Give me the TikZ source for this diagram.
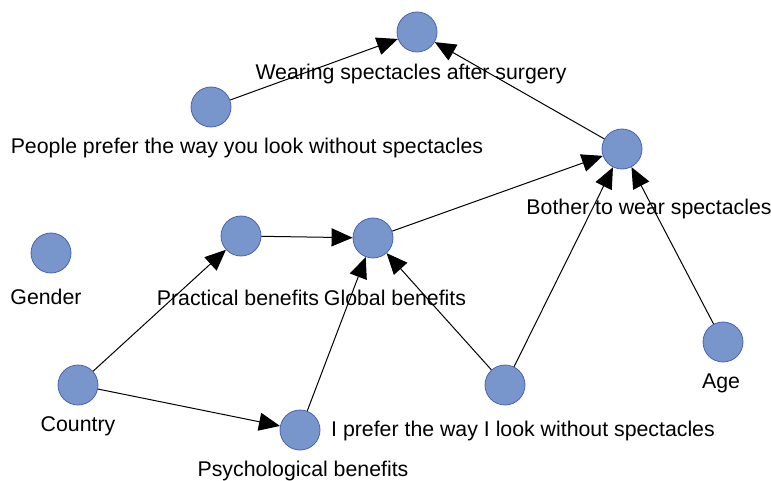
\documentclass[tikz,border=0pt]{standalone}
\usepackage{fontspec}
\setmainfont{Liberation Sans}
\usepackage{xcolor}
\definecolor{NodeBlue}{HTML}{7896CC}
\definecolor{EdgeBlue}{HTML}{4A62B4}
\usetikzlibrary{arrows.meta,positioning}

\begin{document}
\begin{tikzpicture}[x=1pt, y=-1pt, every node/.style={font=\fontsize{21.3}{23}\selectfont, align=center}, var/.style={circle, draw=EdgeBlue, fill=NodeBlue, line width=0.8pt, minimum size=40pt, inner sep=0pt}, tag/.style={inner sep=0pt}, arr/.style={-{Triangle[length=21pt, width=18pt]}, line width=1pt, black}]
        \useasboundingbox (0,0) rectangle (771,481);
        % variables
        \node[var] (wear) at (417,32) {};
        \node[var] (people) at (211,107) {};
        \node[var] (bother) at (622,149) {};
        \node[var] (gender) at (51,253) {};
        \node[var] (practical) at (241,236) {};
        \node[var] (global) at (373,238) {};
        \node[var] (age) at (723,342) {};
        \node[var] (country) at (78,385) {};
        \node[var] (iprefer) at (505,385) {};
        \node[var] (psych) at (300,430) {};

        % labels
        \node[tag] (wear-t) at (411,74) {Wearing spectacles after surgery};
        \node[tag] (people-t) at (247,148) {People prefer the way you look without spectacles};
        \node[tag] (bother-t) at (649,209) {Bother to wear spectacles};
        \node[tag] (gender-t) at (46,297) {Gender};
        \node[tag] (practical-t) at (238,298) {Practical benefits};
        \node[tag] (global-t) at (395,298) {Global benefits};
        \node[tag] (age-t) at (721,383) {Age};
        \node[tag] (country-t) at (78,426) {Country};
        \node[tag] (iprefer-t) at (523,431) {I prefer the way I look without spectacles};
        \node[tag] (psych-t) at (303,471) {Psychological benefits};

        % edges
        \draw[arr] (people) -- (wear);
        \draw[arr] (bother) -- (wear);
        \draw[arr] (global) -- (bother);
        \draw[arr] (iprefer) -- (bother);
        \draw[arr] (age) -- (bother);
        \draw[arr] (practical) -- (global);
        \draw[arr] (psych) -- (global);
        \draw[arr] (iprefer) -- (global);
        \draw[arr] (country) -- (practical);
        \draw[arr] (country) -- (psych);
    \end{tikzpicture}
\end{document}
